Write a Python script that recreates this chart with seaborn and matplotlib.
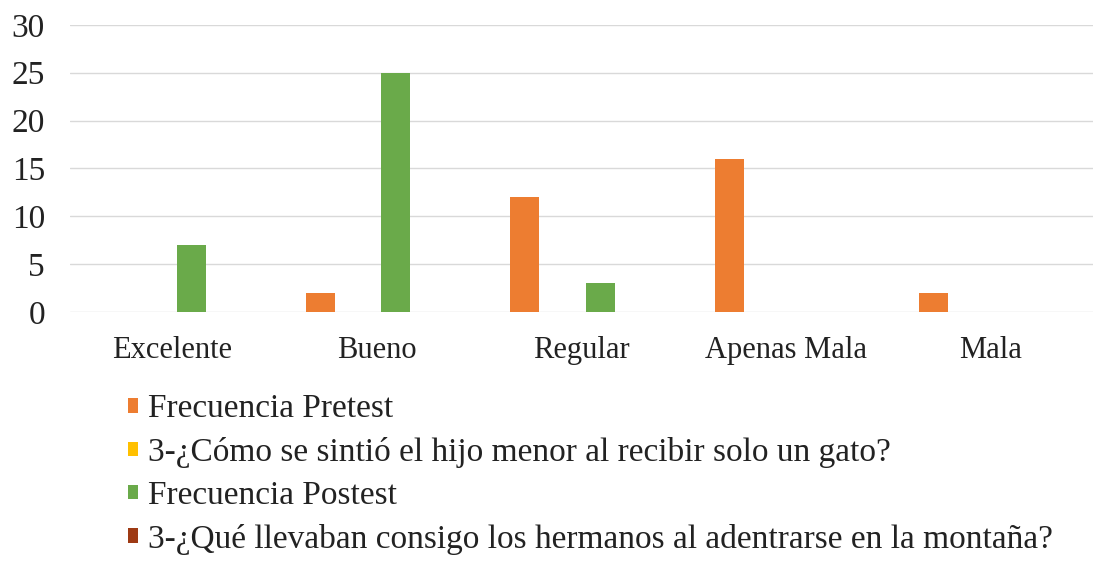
import pandas as pd
import matplotlib
matplotlib.use("Agg")
import matplotlib.pyplot as plt
import seaborn as sns

# ------------------------------
# Data
# ------------------------------
categories = ["Excelente", "Bueno", "Regular", "Apenas Mala", "Mala"]
series_names = [
    "Frecuencia Pretest",
    "3-¿Cómo se sintió el hijo menor al recibir solo un gato?",
    "Frecuencia Postest",
    "3-¿Qué llevaban consigo los hermanos al adentrarse en la montaña?",
]
pretest = [0, 2, 12, 16, 2]
pregunta_gato = [0, 0, 0, 0, 0]
postest = [7, 25, 3, 0, 0]
pregunta_montana = [0, 0, 0, 0, 0]
colors = ["#ED7D31", "#FFC000", "#6AAA4A", "#9E3A14"]

rows = []
for name, vals in zip(series_names, [pretest, pregunta_gato, postest, pregunta_montana]):
    for cat, v in zip(categories, vals):
        rows.append({"categoria": cat, "serie": name, "valor": v})
df = pd.DataFrame(rows)

# ------------------------------
# Plot
# ------------------------------
sns.set_style("white")
plt.rcParams["font.family"] = ["Liberation Serif", "DejaVu Serif"]

fig = plt.figure(figsize=(10.93, 5.64), dpi=100)
ax = fig.add_axes([0.064, 0.447, 0.936, 0.509])

sns.barplot(data=df, x="categoria", y="valor", hue="serie", order=categories,
            hue_order=series_names, palette=colors, saturation=1,
            width=0.74, gap=0.23, linewidth=0, ax=ax)

ax.set_ylim(0, 30)
ax.set_yticks(range(0, 31, 5))
ax.set_xlim(-0.5, 4.5)
ax.yaxis.grid(True, color="#d9d9d9", linewidth=1)
ax.set_axisbelow(True)
for s in ax.spines.values():
    s.set_visible(False)
ax.set_xlabel("")
ax.set_ylabel("")
ax.tick_params(axis="y", labelsize=24, pad=18, length=0, colors="#222222")
ax.tick_params(axis="x", labelsize=22, pad=17, length=0, colors="#222222")

handles, labels = ax.get_legend_handles_labels()
ax.get_legend().remove()
fig.legend(handles, labels, loc="upper left", bbox_to_anchor=(0.117, 0.302),
           frameon=False, fontsize=24, handlelength=0.3, handleheight=0.3,
           handletextpad=0.3, labelspacing=0.38, borderaxespad=0, borderpad=0,
           labelcolor="#222222")

fig.savefig("out.png", dpi=100)
